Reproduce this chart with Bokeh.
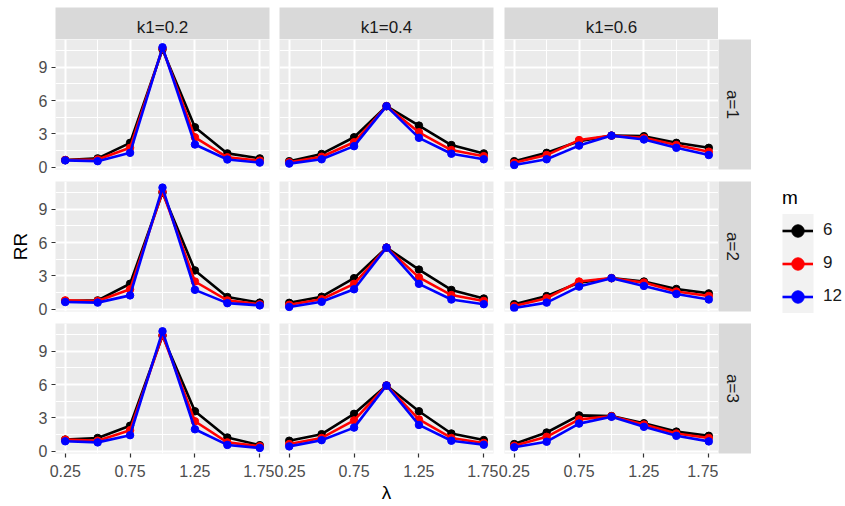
from math import pi

from bokeh.core.properties import value
from bokeh.embed import file_html
from bokeh.layouts import column, row
from bokeh.models import (BoxAnnotation, FixedTicker, Grid, Legend, LegendItem,
                          LinearAxis, Range1d)
from bokeh.plotting import figure
from bokeh.resources import INLINE

# ---------------------------------------------------------------- data
lam = [0.25, 0.5, 0.75, 1.0, 1.25, 1.5, 1.75]
k1_levels = [0.2, 0.4, 0.6]
a_levels = [1, 2, 3]
m_levels = [6, 9, 12]
m_colors = ["#000000", "#ff0000", "#0000ff"]

x_ticks = [0.25, 0.75, 1.25, 1.75]
x_minor = [0.5, 1.0, 1.5]
y_ticks = [0, 3, 6, 9]
y_minor = [1.5, 4.5, 7.5, 10.5]

# a = 1
rr_a1_k02_m6 = [0.65, 0.80, 2.20, 10.60, 3.60, 1.25, 0.80]
rr_a1_k02_m9 = [0.65, 0.70, 1.75, 10.70, 2.70, 0.90, 0.60]
rr_a1_k02_m12 = [0.62, 0.55, 1.30, 10.80, 2.05, 0.70, 0.42]
rr_a1_k04_m6 = [0.55, 1.20, 2.70, 5.50, 3.75, 2.00, 1.25]
rr_a1_k04_m9 = [0.45, 0.95, 2.25, 5.50, 3.15, 1.55, 1.00]
rr_a1_k04_m12 = [0.33, 0.72, 1.90, 5.50, 2.65, 1.22, 0.72]
rr_a1_k06_m6 = [0.55, 1.30, 2.35, 2.85, 2.80, 2.20, 1.75]
rr_a1_k06_m9 = [0.40, 1.10, 2.45, 2.85, 2.65, 2.00, 1.40]
rr_a1_k06_m12 = [0.20, 0.72, 1.95, 2.85, 2.50, 1.75, 1.10]
# a = 2
rr_a2_k02_m6 = [0.75, 0.80, 2.30, 10.50, 3.50, 1.10, 0.60]
rr_a2_k02_m9 = [0.80, 0.75, 1.80, 10.60, 2.50, 0.80, 0.45]
rr_a2_k02_m12 = [0.65, 0.60, 1.25, 10.95, 1.75, 0.55, 0.35]
rr_a2_k04_m6 = [0.58, 1.13, 2.80, 5.55, 3.57, 1.74, 0.97]
rr_a2_k04_m9 = [0.40, 0.90, 2.29, 5.55, 2.87, 1.28, 0.75]
rr_a2_k04_m12 = [0.21, 0.67, 1.80, 5.55, 2.29, 0.88, 0.46]
rr_a2_k06_m6 = [0.46, 1.19, 2.40, 2.80, 2.50, 1.83, 1.43]
rr_a2_k06_m9 = [0.30, 1.00, 2.50, 2.80, 2.40, 1.60, 1.20]
rr_a2_k06_m12 = [0.12, 0.60, 2.04, 2.80, 2.10, 1.37, 0.88]
# a = 3
rr_a3_k02_m6 = [1.05, 1.20, 2.30, 10.40, 3.60, 1.24, 0.55]
rr_a3_k02_m9 = [1.05, 0.95, 1.90, 10.45, 2.70, 0.80, 0.45]
rr_a3_k02_m12 = [0.90, 0.80, 1.45, 10.80, 1.98, 0.57, 0.30]
rr_a3_k04_m6 = [0.95, 1.54, 3.37, 5.92, 3.60, 1.60, 1.01]
rr_a3_k04_m9 = [0.65, 1.20, 2.78, 5.92, 2.87, 1.20, 0.75]
rr_a3_k04_m12 = [0.44, 1.00, 2.13, 5.92, 2.37, 0.95, 0.59]
rr_a3_k06_m6 = [0.65, 1.69, 3.23, 3.17, 2.52, 1.77, 1.39]
rr_a3_k06_m9 = [0.50, 1.30, 2.87, 3.15, 2.40, 1.60, 1.20]
rr_a3_k06_m12 = [0.36, 0.86, 2.49, 3.10, 2.20, 1.39, 0.89]

series = {
    (1, 0.2): [rr_a1_k02_m6, rr_a1_k02_m9, rr_a1_k02_m12],
    (1, 0.4): [rr_a1_k04_m6, rr_a1_k04_m9, rr_a1_k04_m12],
    (1, 0.6): [rr_a1_k06_m6, rr_a1_k06_m9, rr_a1_k06_m12],
    (2, 0.2): [rr_a2_k02_m6, rr_a2_k02_m9, rr_a2_k02_m12],
    (2, 0.4): [rr_a2_k04_m6, rr_a2_k04_m9, rr_a2_k04_m12],
    (2, 0.6): [rr_a2_k06_m6, rr_a2_k06_m9, rr_a2_k06_m12],
    (3, 0.2): [rr_a3_k02_m6, rr_a3_k02_m9, rr_a3_k02_m12],
    (3, 0.4): [rr_a3_k04_m6, rr_a3_k04_m9, rr_a3_k04_m12],
    (3, 0.6): [rr_a3_k06_m6, rr_a3_k06_m9, rr_a3_k06_m12],
}

# ---------------------------------------------------------------- style
FONT = "Liberation Sans"
PANEL_BG = "#ebebeb"
STRIP_BG = "#d9d9d9"
PANEL_W, PANEL_H = 214, 130
STRIP_TOP_H, STRIP_RIGHT_W = 32, 33
X_RANGE = (0.175, 1.825)
Y_RANGE = (-0.2, 11.5)
LINE_W, POINT_SIZE = 2.6, 7.5

# borders around each panel column / row (left, right) and (top, bottom)
col_pad = [(55, 5), (5, 5), (6, 0)]
row_pad = [(0, 6), (6, 6), (6, 54)]


def blank_fig(width, height, pads, **kw):
    left, right, top, bottom = pads
    p = figure(width=width, height=height, toolbar_location=None,
               output_backend="svg", x_axis_location=None,
               y_axis_location=None, min_border_left=left,
               min_border_right=right, min_border_top=top,
               min_border_bottom=bottom, outline_line_color=None,
               border_fill_color="white", **kw)
    # drop the default grids; panels get their own below
    p.center = [obj for obj in p.center if not isinstance(obj, Grid)]
    return p


def style_axis(ax):
    ax.axis_line_color = None
    ax.major_tick_line_color = "#333333"
    ax.major_tick_line_width = 1.2
    ax.major_tick_out = 4
    ax.major_tick_in = 0
    ax.minor_tick_line_color = None
    ax.major_label_text_font = FONT
    ax.major_label_text_font_size = "16px"
    ax.major_label_text_color = "#4d4d4d"
    ax.axis_label_text_font = FONT
    ax.axis_label_text_font_size = "19px"
    ax.axis_label_text_font_style = "normal"
    ax.axis_label_text_color = "#000000"


def panel(r, c):
    a, k1 = a_levels[r], k1_levels[c]
    (left, right), (top, bottom) = col_pad[c], row_pad[r]
    p = blank_fig(PANEL_W + left + right, PANEL_H + top + bottom,
                  (left, right, top, bottom),
                  x_range=Range1d(*X_RANGE), y_range=Range1d(*Y_RANGE),
                  background_fill_color=PANEL_BG)
    xt = FixedTicker(ticks=x_ticks, minor_ticks=x_minor)
    yt = FixedTicker(ticks=y_ticks, minor_ticks=y_minor)
    for dim, tk in ((0, xt), (1, yt)):
        p.add_layout(Grid(dimension=dim, ticker=tk, grid_line_color="white",
                          grid_line_width=2.0, minor_grid_line_color="white",
                          minor_grid_line_width=1.1))
    if c == 0:
        ax = LinearAxis(ticker=yt)
        style_axis(ax)
        ax.major_label_standoff = 4
        if r == 1:
            ax.axis_label = "RR"
            ax.axis_label_standoff = 5
        p.add_layout(ax, "left")
    if r == 2:
        ax = LinearAxis(ticker=xt)
        style_axis(ax)
        ax.major_label_standoff = 7
        if c == 1:
            ax.axis_label = "λ"
            ax.axis_label_standoff = 2
        p.add_layout(ax, "below")
    for vals, col in zip(series[(a, k1)], m_colors):
        p.line(lam, vals, line_color=col, line_width=LINE_W, line_join="round")
        p.scatter(lam, vals, size=POINT_SIZE, fill_color=col, line_color=col)
    return p


def top_strip(c):
    left, right = col_pad[c]
    p = blank_fig(PANEL_W + left + right, STRIP_TOP_H + 7, (left, right, 7, 0),
                  x_range=Range1d(0, 1), y_range=Range1d(0, 1),
                  background_fill_color=STRIP_BG)
    p.text(x=[0.5], y=[0.38], text=[f"k1={k1_levels[c]}"], text_align="center",
           text_baseline="middle", text_font=value(FONT),
           text_font_size="17px", text_color="#1a1a1a")
    return p


def right_strip(r):
    top, bottom = row_pad[r]
    p = blank_fig(STRIP_RIGHT_W, PANEL_H + top + bottom, (0, 0, top, bottom),
                  x_range=Range1d(0, 1), y_range=Range1d(0, 1),
                  background_fill_color=STRIP_BG)
    p.text(x=[0.42], y=[0.5], text=[f"a={a_levels[r]}"], angle=-pi / 2,
           text_align="center", text_baseline="middle",
           text_font=value(FONT), text_font_size="17px", text_color="#1a1a1a")
    return p


# ---------------------------------------------------------------- layout
corner = blank_fig(STRIP_RIGHT_W, STRIP_TOP_H + 7, (0, 0, 0, 0),
                   x_range=Range1d(0, 1), y_range=Range1d(0, 1),
                   background_fill_color="white")
rows = [row(*[top_strip(c) for c in range(3)], corner)]
for r in range(3):
    rows.append(row(*[panel(r, c) for c in range(3)], right_strip(r)))
grid = column(*rows)

# legend for m, in its own narrow figure at the right
lg = blank_fig(94, 506, (0, 0, 0, 0), x_range=Range1d(0, 94),
               y_range=Range1d(0, 506), background_fill_color="white")
lg.add_layout(BoxAnnotation(left=31, right=62, bottom=506 - 312.5,
                            top=506 - 213.5, fill_color="#f2f2f2",
                            fill_alpha=1, line_color=None))
items = []
for m, vals, col in zip(m_levels, series[(1, 0.2)], m_colors):
    ln = lg.line(lam, vals, line_color=col, line_width=LINE_W, visible=False)
    pt = lg.scatter(lam, vals, size=6.5, fill_color=col,
                    line_color=col, visible=False)
    items.append(LegendItem(label=str(m), renderers=[ln, pt]))
legend = Legend(items=items, location=(31, 506 - 312.5), title="m",
                title_text_font=FONT, title_text_font_size="19px",
                title_text_font_style="normal", title_text_color="#000000",
                title_standoff=5, label_text_font=FONT,
                label_text_font_size="17px", label_text_color="#1a1a1a",
                label_standoff=10, glyph_width=31, glyph_height=33,
                label_height=33, spacing=0, padding=0, margin=0,
                background_fill_alpha=0, border_line_color=None)
lg.add_layout(legend, "center")

page = row(grid, lg)

open("out.html", "w").write(file_html(page, INLINE))
